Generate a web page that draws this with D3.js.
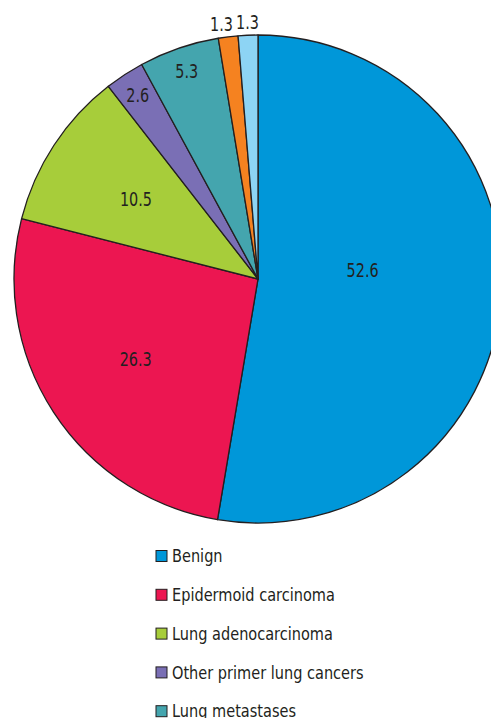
<!DOCTYPE html>
<html>
<head>
<meta charset="utf-8">
<script src="https://cdn.jsdelivr.net/npm/d3@7"></script>
<style>
  html, body { margin: 0; padding: 0; background: #fff; overflow: hidden; }
  svg text { font-family: "DejaVu Sans", sans-serif; fill: #231f20; }
</style>
</head>
<body>
<svg id="chart" width="491" height="718"></svg>
<script>
// slice data, clockwise from 12 o'clock
const categories = ["Benign", "Epidermoid carcinoma", "Lung adenocarcinoma",
  "Other primer lung cancers", "Lung metastases", "Other (6)", "Other (7)"];
const values = [52.6, 26.3, 10.5, 2.6, 5.3, 1.3, 1.3];
const colors = ["#0097d9", "#ec1651", "#a7cd3a", "#7a6fb5", "#44a5ae", "#f58220", "#8dd4f4"];
// only the first five legend rows fit in the window
const legendCount = 5;

const width = 491, height = 718;
const cx = 258, cy = 279, radius = 244;
// no condensed font installed, so squeeze the glyphs a bit
const valSqueeze = 0.72, legSqueeze = 0.83;

const svg = d3.select("#chart");

const pie = d3.pie().value(d => d).sort(null);
const arcs = pie(values);
const arc = d3.arc().innerRadius(0).outerRadius(radius);

const g = svg.append("g").attr("transform", `translate(${cx},${cy})`);

g.selectAll("path.slice")
  .data(arcs)
  .enter()
  .append("path")
  .attr("class", "slice")
  .attr("d", arc)
  .attr("fill", (d, i) => colors[i])
  .attr("stroke", "#231f20")
  .attr("stroke-width", 1.3)
  .attr("stroke-linejoin", "round");

// label radius depends on slice size
function labelRadius(v) {
  if (v > 50) return 105;
  if (v > 8) return 146;
  if (v > 2) return 220;
  return 257;
}

g.selectAll("text.val")
  .data(arcs)
  .enter()
  .append("text")
  .attr("class", "val")
  .attr("transform", d => {
    let a = (d.startAngle + d.endAngle) / 2;
    if (d.value > 50) a -= 0.17; // big slice label sits a bit above its mid line
    const r = labelRadius(d.value);
    let x = Math.sin(a) * r, y = -Math.cos(a) * r;
    if (d.index === 5) x -= 5;
    return `translate(${x},${y}) scale(${valSqueeze},1)`;
  })
  .attr("text-anchor", "middle")
  .attr("dy", "0.35em")
  .style("font-size", "20px")
  .text(d => d.value.toFixed(1));

// legend
const legend = svg.append("g").attr("transform", "translate(156,556)");
const rowH = 38.8;
const items = legend.selectAll("g.item")
  .data(categories.slice(0, legendCount))
  .enter()
  .append("g")
  .attr("class", "item")
  .attr("transform", (d, i) => `translate(0,${i * rowH})`);

items.append("rect")
  .attr("x", 0).attr("y", -5.5)
  .attr("width", 11).attr("height", 11)
  .attr("fill", (d, i) => colors[i])
  .attr("stroke", "#231f20")
  .attr("stroke-width", 1);

items.append("text")
  .attr("transform", `translate(16,0) scale(${legSqueeze},1)`)
  .attr("dy", "0.35em")
  .style("font-size", "17.5px")
  .text(d => d);
</script>
</body>
</html>
